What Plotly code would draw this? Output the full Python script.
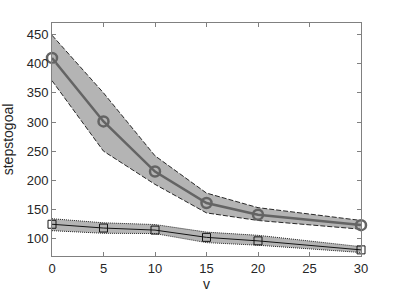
import plotly.graph_objects as go

v = [0, 5, 10, 15, 20, 30]
upper_mean = [410, 301, 215, 161, 141, 123]
upper_hi = [449, 350, 242, 178, 153, 131]
upper_lo = [371, 250, 193, 144, 131, 116]
lower_mean = [124.5, 118, 114.5, 102, 96, 80.5]
lower_hi = [134, 127, 124, 111, 105.5, 86]
lower_lo = [113.5, 109, 108.5, 93, 88.5, 76]

fig = go.Figure()
band = "rgb(180,180,180)"

for hi, lo, dash in [(upper_hi, upper_lo, "5px,2px"), (lower_hi, lower_lo, "1px,1px")]:
    fig.add_trace(go.Scatter(x=v + v[::-1], y=hi + lo[::-1], fill="toself",
                             fillcolor=band, line=dict(width=0), mode="lines",
                             hoverinfo="skip", showlegend=False))
    for edge in (hi, lo):
        fig.add_trace(go.Scatter(x=v, y=edge, mode="lines",
                                 line=dict(color="rgb(40,40,40)", width=1, dash=dash),
                                 showlegend=False))

fig.add_trace(go.Scatter(x=v, y=upper_mean, mode="lines+markers",
                         line=dict(color="rgb(100,100,100)", width=2.5),
                         marker=dict(symbol="circle-open", size=10, color="rgb(100,100,100)",
                                     line=dict(width=2.5, color="rgb(100,100,100)")),
                         cliponaxis=False, showlegend=False))
fig.add_trace(go.Scatter(x=v, y=lower_mean, mode="lines+markers",
                         line=dict(color="rgb(20,20,20)", width=1),
                         marker=dict(symbol="square-open", size=8, color="rgb(20,20,20)",
                                     line=dict(width=1, color="rgb(20,20,20)")),
                         cliponaxis=False, showlegend=False))

axis_common = dict(showline=True, linecolor="rgb(128,128,128)", linewidth=1,
                   mirror="ticks", ticks="inside", ticklen=4, tickcolor="rgb(128,128,128)",
                   showgrid=False, zeroline=False, automargin=False,
                   tickfont=dict(family="Liberation Sans, Arial", size=13, color="rgb(38,38,38)"))

fig.update_xaxes(range=[0, 30], tickvals=[0, 5, 10, 15, 20, 25, 30],
                 title=dict(text="v", standoff=2,
                            font=dict(family="Liberation Sans, Arial", size=14, color="rgb(38,38,38)")),
                 **axis_common)
fig.update_yaxes(range=[70, 470], tickvals=[100, 150, 200, 250, 300, 350, 400, 450],
                 title=dict(text="stepstogoal", font=dict(family="Liberation Sans, Arial", size=14, color="rgb(38,38,38)")),
                 **axis_common)

fig.update_layout(width=399, height=299, margin=dict(l=51.5, r=38, t=22.5, b=42.5),
                  plot_bgcolor="white", paper_bgcolor="white")

fig.write_html("out.html", config={"displayModeBar": False},
               post_script="document.body.style.margin='0';document.body.style.overflow='hidden';")
